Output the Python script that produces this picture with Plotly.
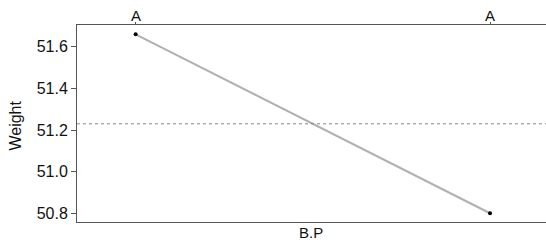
import plotly.graph_objects as go

levels = ["A", "A"]
weight_means = [51.66, 50.80]
y_ticks = [50.8, 51.0, 51.2, 51.4, 51.6]
x_title = "B.P"
y_title = "Weight"

grand_mean = sum(weight_means) / len(weight_means)
xpos = list(range(len(levels)))

fig = go.Figure()
fig.add_trace(go.Scatter(
    x=xpos, y=weight_means, mode="lines",
    line=dict(color="#b0b0b0", width=2), showlegend=False, hoverinfo="skip"))
fig.add_trace(go.Scatter(
    x=xpos, y=weight_means, mode="markers",
    marker=dict(color="black", size=4), showlegend=False))

fig.add_shape(type="line", xref="paper", x0=0, x1=1, yref="y",
              y0=grand_mean, y1=grand_mean,
              line=dict(color="#888888", width=1, dash="dot"))

for xp, lab in zip(xpos, levels):
    fig.add_annotation(text=lab, xref="x", yref="paper", x=xp, y=1,
                       yshift=10, yanchor="middle", showarrow=False,
                       font=dict(size=15, color="#111"))

fig.add_annotation(text=x_title, xref="paper", yref="paper", x=0.498, y=0,
                   yshift=-10, yanchor="middle", showarrow=False,
                   font=dict(size=15, color="#111"))
fig.add_annotation(text=y_title, xref="paper", yref="paper", x=-0.132, y=0.49,
                   textangle=-90, xanchor="center", yanchor="middle",
                   showarrow=False, font=dict(size=16, color="#111"))

fig.update_layout(
    width=546, height=240,
    margin=dict(l=77, r=0, t=25, b=18),
    paper_bgcolor="white", plot_bgcolor="white",
    font=dict(family="Liberation Sans, Arial, sans-serif", size=15, color="#111"),
    xaxis=dict(range=[-0.1655, 1.158], side="top", tickvals=xpos,
               showticklabels=False,
               showgrid=False, zeroline=False, showline=True, linecolor="#555",
               linewidth=1, mirror=True, ticks="outside", ticklen=2,
               tickcolor="#555", automargin=False),
    yaxis=dict(range=[50.758, 51.705], tickvals=y_ticks,
               ticktext=[f"{v:.1f}" for v in y_ticks],
               showgrid=False, zeroline=False, showline=True, linecolor="#555",
               linewidth=1, ticks="outside", ticklen=5, tickcolor="#555",
               automargin=False, tickfont=dict(size=16)),
)

fig.write_html("out.html", config={"displayModeBar": False},
               post_script="document.body.style.margin='0';")
